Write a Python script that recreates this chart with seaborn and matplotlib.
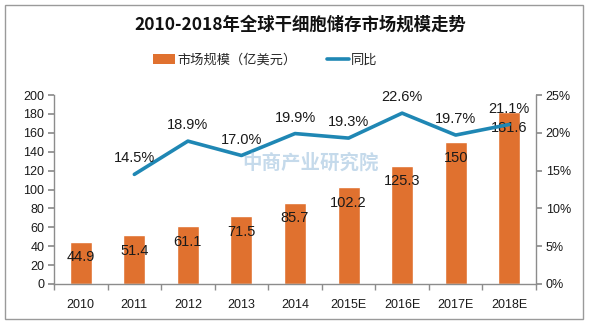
import matplotlib
matplotlib.use("Agg")
import matplotlib.pyplot as plt
from matplotlib.patches import Rectangle
from matplotlib.lines import Line2D
import seaborn as sns
import pandas as pd

years = ["2010", "2011", "2012", "2013", "2014", "2015E", "2016E", "2017E", "2018E"]
market_size = [44.9, 51.4, 61.1, 71.5, 85.7, 102.2, 125.3, 150, 181.6]
growth = [None, 14.5, 18.9, 17.0, 19.9, 19.3, 22.6, 19.7, 21.1]
left_ticks = [0, 20, 40, 60, 80, 100, 120, 140, 160, 180, 200]
right_ticks = [0, 5, 10, 15, 20, 25]

title = "2010-2018年全球干细胞储存市场规模走势"
bar_label = "市场规模（亿美元）"
line_label = "同比"

BAR = "#E0712F"
LINE = "#1F87B4"
AXIS = "#8C8C8C"
TEXT = "#1A1A1A"

sns.set_theme(style="white")
plt.rcParams["font.family"] = ["Liberation Sans", "Noto Sans CJK SC", "DejaVu Sans"]
cjk = ["Noto Sans CJK SC", "DejaVu Sans"]

df = pd.DataFrame({"year": years, "size": market_size, "growth": growth})

fig = plt.figure(figsize=(5.94, 3.26), dpi=100)
fig.patch.set_facecolor("white")

# chart frame
fig.add_artist(Rectangle((5 / 594, 1 - 319 / 326), 578 / 594, 314 / 326,
                         transform=fig.transFigure, fill=False,
                         edgecolor="#9A9A9A", linewidth=1.0))

ax = fig.add_axes([54 / 594, 1 - 284 / 326, 482 / 594, 189 / 326])
sns.barplot(data=df, x="year", y="size", color=BAR, saturation=1,
            width=0.41, ax=ax)
ax.set_ylim(0, 200)
ax.set_xlim(-0.5, len(years) - 0.5)
ax.set_yticks(left_ticks)
ax.set_xlabel("")
ax.set_ylabel("")

ax2 = ax.twinx()
sns.lineplot(data=df.dropna(), x="year", y="growth", color=LINE,
             linewidth=2.6, ax=ax2, sort=False)
ax2.set_ylim(0, 25)
ax2.set_xlim(-0.5, len(years) - 0.5)
ax2.set_yticks(right_ticks)
ax2.set_yticklabels([f"{t}%" for t in right_ticks])
ax2.set_ylabel("")

for a in (ax, ax2):
    a.grid(False)
    a.spines["top"].set_visible(False)
    for s in ("left", "right", "bottom"):
        a.spines[s].set_color(AXIS)
        a.spines[s].set_linewidth(1.0)
    a.tick_params(axis="y", length=4, color=AXIS, labelsize=9, labelcolor=TEXT, pad=3)
ax.spines["right"].set_visible(False)
ax2.spines["left"].set_visible(False)
ax2.spines["bottom"].set_visible(False)

# category ticks sit between the bars
ax.set_xticks(range(len(years)))
ax.set_xticklabels(years)
ax.tick_params(axis="x", length=0, labelsize=9, labelcolor=TEXT, pad=11)
ax.set_xticks([i - 0.5 for i in range(len(years) + 1)], minor=True)
ax.tick_params(axis="x", which="minor", length=4, color=AXIS, bottom=True)
ax.tick_params(axis="y", left=True)
ax2.tick_params(axis="y", right=True)

for i, v in enumerate(market_size):
    ax.annotate(f"{v:g}", (i, v), xytext=(0, -11), textcoords="offset points",
                ha="center", va="center", fontsize=10.5, color=TEXT)
for i, g in enumerate(growth):
    if g is None:
        continue
    ax2.annotate(f"{g:.1f}%", (i, g), xytext=(0, 11.5), textcoords="offset points",
                 ha="center", va="center", fontsize=10.5, color=TEXT)

# watermark
fig.text(310 / 594, 1 - 163 / 326, "中商产业研究院", family=cjk, fontsize=14,
         color="#8DB6D8", alpha=0.5, ha="center", va="center", fontweight="bold")

fig.text(300 / 594, 1 - 25 / 326, title, family=cjk, fontsize=12.5,
         fontweight="bold", color="#111111", ha="center", va="center")

handles = [Rectangle((0, 0), 1, 1, facecolor=BAR, edgecolor="none"),
           Line2D([0], [0], color=LINE, linewidth=2.6)]
fig.legend(handles, [bar_label, line_label], loc="center",
           bbox_to_anchor=(265 / 594, 1 - 60 / 326), ncol=2, frameon=False,
           prop={"family": cjk, "size": 9.5}, handlelength=1.7, handleheight=0.7,
           handletextpad=0.15, columnspacing=2.3)

fig.savefig("out.png", dpi=100, facecolor="white")
